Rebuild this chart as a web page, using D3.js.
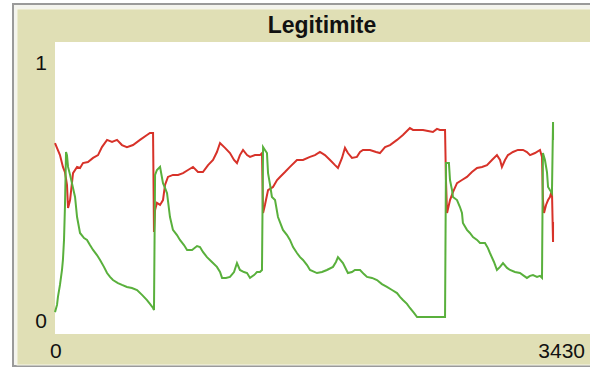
<!DOCTYPE html>
<html><head><meta charset="utf-8">
<script src="https://cdn.jsdelivr.net/npm/d3@7"></script>
<style>html,body{margin:0;padding:0;background:#fff;overflow:hidden}</style>
</head><body>
<svg id="c" width="590" height="367"></svg>
<script>
const title = "Legitimite";
const xDomain = [0, 3430];
const yDomain = [0, 1];
const xTickLabels = ["0", "3430"];
const yTickLabels = ["0", "1"];
const seriesNames = ["red", "green"];

const redT = [0,32,51,64,77,84,97,116,142,161,180,212,245,277,302,335,367,399,431,463,502,547,592,611,631,637,644,656,676,695,708,727,759,792,824,856,888,920,952,985,1017,1042,1062,1094,1126,1152,1171,1190,1210,1236,1255,1287,1319,1332,1339,1351,1371,1403,1429,1448,1480,1512,1557,1596,1641,1673,1705,1737,1770,1802,1821,1847,1866,1885,1911,1943,1963,1982,2027,2066,2091,2124,2156,2201,2239,2284,2304,2336,2368,2400,2432,2458,2477,2510,2516,2523,2542,2561,2587,2619,2651,2683,2716,2748,2780,2812,2844,2864,2876,2896,2915,2947,2979,3012,3037,3057,3089,3121,3134,3140,3147,3160,3173,3185,3198,3205,3205];
const redV = [0.677,0.630,0.584,0.564,0.514,0.424,0.455,0.560,0.584,0.580,0.599,0.603,0.619,0.630,0.661,0.689,0.681,0.689,0.669,0.661,0.669,0.689,0.708,0.716,0.716,0.331,0.416,0.444,0.436,0.455,0.514,0.545,0.553,0.553,0.560,0.572,0.584,0.564,0.564,0.591,0.611,0.642,0.677,0.658,0.638,0.611,0.599,0.630,0.650,0.630,0.623,0.630,0.630,0.638,0.405,0.436,0.494,0.506,0.533,0.545,0.564,0.584,0.611,0.611,0.623,0.630,0.642,0.630,0.611,0.591,0.580,0.619,0.658,0.638,0.619,0.623,0.642,0.650,0.650,0.642,0.638,0.661,0.669,0.689,0.708,0.735,0.728,0.728,0.728,0.724,0.720,0.732,0.728,0.728,0.533,0.405,0.455,0.486,0.521,0.533,0.545,0.564,0.580,0.584,0.591,0.611,0.630,0.611,0.584,0.611,0.630,0.642,0.650,0.650,0.642,0.630,0.638,0.650,0.623,0.455,0.405,0.436,0.455,0.467,0.494,0.292,0.370];

const greenT = [0,13,19,32,45,51,58,64,71,77,84,97,109,129,142,161,187,206,225,245,270,290,315,335,354,373,405,431,463,495,528,560,592,611,631,637,644,656,676,695,708,721,740,759,785,804,830,850,882,914,933,952,978,1010,1042,1062,1075,1100,1126,1152,1171,1190,1216,1236,1255,1281,1300,1319,1332,1339,1351,1364,1371,1384,1396,1416,1435,1467,1493,1512,1532,1557,1577,1596,1622,1641,1686,1718,1750,1789,1808,1821,1853,1885,1911,1930,1963,1988,2008,2040,2072,2104,2136,2169,2201,2220,2239,2265,2284,2310,2330,2510,2516,2535,2542,2555,2561,2587,2606,2619,2625,2651,2670,2690,2716,2735,2767,2786,2799,2825,2844,2864,2883,2909,2928,2960,2992,3018,3037,3057,3076,3102,3121,3134,3140,3153,3166,3173,3185,3198,3205,3205];
const greenV = [0.019,0.047,0.078,0.125,0.183,0.222,0.300,0.428,0.642,0.630,0.584,0.553,0.521,0.467,0.389,0.327,0.307,0.300,0.280,0.261,0.241,0.222,0.195,0.171,0.156,0.144,0.132,0.125,0.117,0.113,0.105,0.086,0.066,0.051,0.035,0.027,0.553,0.572,0.584,0.521,0.502,0.482,0.389,0.339,0.319,0.300,0.280,0.261,0.261,0.276,0.272,0.253,0.233,0.214,0.195,0.175,0.152,0.152,0.156,0.175,0.210,0.183,0.175,0.171,0.152,0.163,0.175,0.175,0.183,0.661,0.650,0.638,0.560,0.514,0.467,0.455,0.389,0.339,0.319,0.300,0.272,0.249,0.233,0.222,0.202,0.183,0.171,0.175,0.183,0.195,0.214,0.233,0.210,0.171,0.175,0.183,0.183,0.167,0.156,0.152,0.144,0.128,0.117,0.105,0.093,0.078,0.066,0.051,0.035,0.016,0.000,0.000,0.599,0.599,0.533,0.494,0.467,0.455,0.428,0.405,0.366,0.339,0.327,0.311,0.300,0.288,0.288,0.268,0.249,0.214,0.183,0.195,0.210,0.191,0.183,0.175,0.171,0.160,0.152,0.160,0.163,0.156,0.160,0.152,0.638,0.611,0.564,0.506,0.494,0.482,0.759,0.689];

const svg = d3.select("#c");
const W = 590, H = 367;
const bg = "#e0dfb5";

// outer frame
svg.append("rect").attr("x", 0).attr("y", 0).attr("width", W).attr("height", H).attr("fill", "#ffffff");
svg.append("rect").attr("x", 13).attr("y", 4).attr("width", W).attr("height", H - 5)
  .attr("fill", "#f4f4ee").attr("stroke", "#9a9a9a").attr("stroke-width", 2);
svg.append("rect").attr("x", 17).attr("y", 9).attr("width", W).attr("height", H - 11)
  .attr("fill", bg).attr("stroke", "#f6f6ea").attr("stroke-width", 1);

// plot area
const pl = 55, pt = 42, pr = 592, pb = 334;
svg.append("rect").attr("x", pl).attr("y", pt).attr("width", pr - pl).attr("height", pb - pt).attr("fill", "#ffffff");

const x = d3.scaleLinear().domain(xDomain).range([55, 588]);
const y = d3.scaleLinear().domain(yDomain).range([317, 60]);

// title
svg.append("text").attr("x", 322).attr("y", 33).attr("text-anchor", "middle")
  .attr("font-family", "Liberation Sans, Arial, sans-serif").attr("font-weight", "bold")
  .attr("font-size", 23).attr("fill", "#111").text(title);

const lblFont = "Liberation Sans, Arial, sans-serif";
// y labels
svg.append("text").attr("x", 41).attr("y", 70).attr("text-anchor", "middle")
  .attr("font-family", lblFont).attr("font-size", 21).attr("fill", "#111").text(yTickLabels[1]);
svg.append("text").attr("x", 41).attr("y", 328).attr("text-anchor", "middle")
  .attr("font-family", lblFont).attr("font-size", 21).attr("fill", "#111").text(yTickLabels[0]);
// x labels
svg.append("text").attr("x", 50).attr("y", 358).attr("text-anchor", "start")
  .attr("font-family", lblFont).attr("font-size", 21).attr("fill", "#111").text(xTickLabels[0]);
svg.append("text").attr("x", 585).attr("y", 358).attr("text-anchor", "end")
  .attr("font-family", lblFont).attr("font-size", 21).attr("fill", "#111").text(xTickLabels[1]);

const line = d3.line().x(d => x(d[0])).y(d => y(d[1]));
const redData = redT.map((t, i) => [t, redV[i]]);
const greenData = greenT.map((t, i) => [t, greenV[i]]);

const g = svg.append("g");
g.append("path").datum(redData).attr("d", line).attr("fill", "none")
  .attr("stroke", "#d73229").attr("stroke-width", 2).attr("stroke-linejoin", "miter");
g.append("path").datum(greenData).attr("d", line).attr("fill", "none")
  .attr("stroke", "#59b03c").attr("stroke-width", 2).attr("stroke-linejoin", "miter");
</script>
</body></html>
